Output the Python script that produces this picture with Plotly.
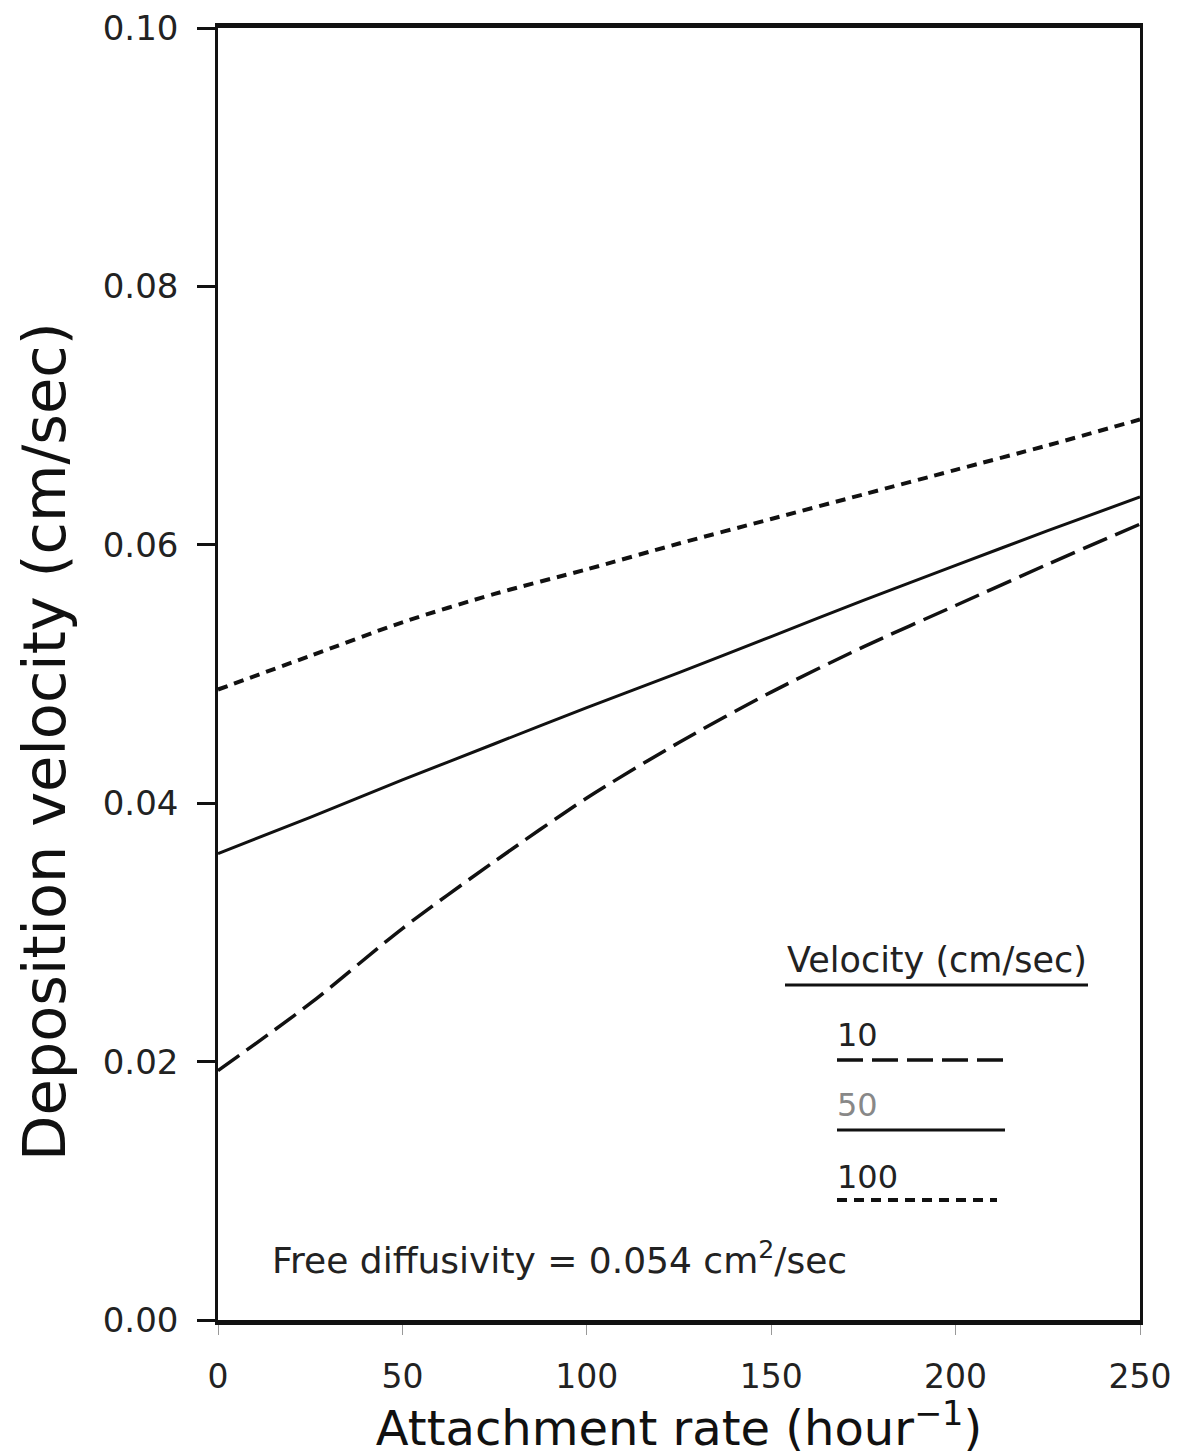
import plotly.graph_objects as go

# ---- data ----
attachment_rate = [0, 25, 50, 75, 100, 125, 150, 175, 200, 225, 250]
dep_v10 = [0.0193, 0.0245, 0.0303, 0.0355, 0.0404, 0.0447, 0.0486, 0.0521, 0.0553, 0.0585, 0.0616]
dep_v50 = [0.0361, 0.0389, 0.0418, 0.0446, 0.0474, 0.0501, 0.0529, 0.0557, 0.0584, 0.0611, 0.0637]
dep_v100 = [0.0488, 0.0514, 0.0540, 0.0562, 0.0581, 0.0601, 0.0620, 0.0639, 0.0658, 0.0677, 0.0697]

x_ticks = [0, 50, 100, 150, 200, 250]
y_ticks = [0.00, 0.02, 0.04, 0.06, 0.08, 0.10]
y_ticktext = ["0.00", "0.02", "0.04", "0.06", "0.08", "0.10"]
series_names = ["10", "50", "100"]

FONT = "DejaVu Sans"

# page has an 8px body margin; size figure so the plot lands where the reference has it
OFF = 8
W, H = 1178, 1448
L, R, T, B = 210, 46, 20, 136
pw, ph = W - L - R, H - T - B


def px2paper(x, y):
    return (x - OFF - L) / pw, (OFF + H - B - y) / ph


fig = go.Figure()
styles = [
    dict(color="#111", width=3.5, dash="26px,9px"),
    dict(color="#111", width=3, dash="solid"),
    dict(color="#111", width=4, dash="10px,7px"),
]
for name, ys, st in zip(series_names, [dep_v10, dep_v50, dep_v100], styles):
    fig.add_trace(go.Scatter(x=attachment_rate, y=ys, mode="lines", name=name,
                             line=dict(shape="spline", smoothing=0.8, **st),
                             showlegend=False))

fig.update_layout(
    width=W, height=H,
    margin=dict(l=L, r=R, t=T, b=B, autoexpand=False),
    paper_bgcolor="white", plot_bgcolor="white",
    font=dict(family=FONT, color="#111"),
    xaxis=dict(range=[0, 250], tickvals=x_ticks, ticks="outside", ticklen=10,
               tickwidth=1, tickcolor="#999", showgrid=False, zeroline=False,
               showline=True, linewidth=4.5, linecolor="#111", mirror=True,
               tickfont=dict(size=33, color="#222"), ticklabelstandoff=14,
               ticklabeloverflow="allow", automargin=False,
               title=dict(text="Attachment rate (hour<sup>−1</sup>)",
                          font=dict(size=48, color="#111"), standoff=10)),
    yaxis=dict(range=[0, 0.10], tickvals=y_ticks, ticktext=y_ticktext,
               ticks="outside", ticklen=18, tickwidth=2.5, tickcolor="#111",
               showgrid=False, zeroline=False, showline=True, linewidth=2.5,
               linecolor="#111", mirror=True, ticklabelstandoff=12,
               ticklabeloverflow="allow", automargin=False,
               tickfont=dict(size=34, color="#222")),
)

ann = []
# y-axis title
xp, yp = px2paper(45, 742)
ann.append(dict(x=xp, y=yp, xref="paper", yref="paper", text="Deposition velocity (cm/sec)",
                textangle=-90, xanchor="center", yanchor="middle", showarrow=False,
                font=dict(size=59, color="#111")))
# legend title
xp, yp = px2paper(937, 960)
ann.append(dict(x=xp, y=yp, xref="paper", yref="paper", text="Velocity (cm/sec)",
                xanchor="center", yanchor="middle",
                showarrow=False, font=dict(size=35, color="#222")))
# legend labels
for lbl, ypx, col in zip(series_names, [1035, 1105, 1177], ["#222", "#888", "#222"]):
    xp, yp = px2paper(835, ypx)
    ann.append(dict(x=xp, y=yp, xref="paper", yref="paper", text=lbl, xanchor="left",
                    yanchor="middle", showarrow=False, font=dict(size=32, color=col)))
# free diffusivity note
xp, yp = px2paper(270, 1258)
ann.append(dict(x=xp, y=yp, xref="paper", yref="paper", xanchor="left", yanchor="middle",
                text="Free diffusivity = 0.054 cm<sup>2</sup>/sec",
                showarrow=False, font=dict(size=36, color="#222")))
fig.update_layout(annotations=ann)

shapes = []
x0, y0 = px2paper(785, 985)
x1, _ = px2paper(1088, 985)
shapes.append(dict(type="line", xref="paper", yref="paper", x0=x0, x1=x1, y0=y0, y1=y0,
                   line=dict(color="#111", width=3)))
for ypx, st, xend in zip([1060, 1130, 1200], styles, [1003, 1005, 997]):
    a0, b0 = px2paper(837, ypx)
    a1, _ = px2paper(xend, ypx)
    shapes.append(dict(type="line", xref="paper", yref="paper", x0=a0, x1=a1, y0=b0, y1=b0,
                       line=dict(color=st["color"], width=st["width"], dash=st["dash"])))
fig.update_layout(shapes=shapes)

fig.write_html("out.html")
